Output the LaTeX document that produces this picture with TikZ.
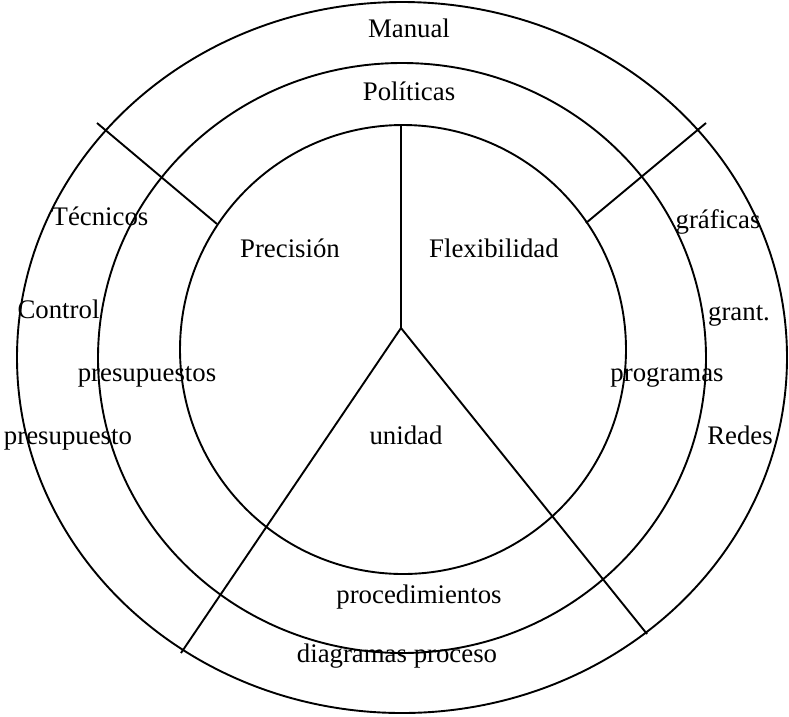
\documentclass[tikz,border=0pt]{standalone}
\usepackage{fontspec}
\setmainfont{Liberation Serif}
\begin{document}
\begin{tikzpicture}[x=1pt,y=-1pt,
  ring/.style={line width=1.9pt,black},
  spoke/.style={line width=1.9pt,black},
  lbl/.style={anchor=base,inner sep=0pt,font=\fontsize{26.8}{32}\selectfont}]
\useasboundingbox (0,0) rectangle (789,716);
% rings
\draw[ring] (402,357.5) ellipse [x radius=385,y radius=355.5];
\draw[ring] (402,358) ellipse [x radius=304,y radius=295];
\draw[ring] (403,349.5) ellipse [x radius=223,y radius=224.5];
% spokes
\coordinate (hub) at (401,328);
\coordinate (top) at (401,126);
\coordinate (bl) at (181,653);
\coordinate (br) at (647,634);
\coordinate (tlA) at (97,123);
\coordinate (tlB) at (217,224);
\coordinate (trA) at (706,123);
\coordinate (trB) at (586,223);
\draw[spoke] (top) -- (hub);
\draw[spoke] (hub) -- (bl);
\draw[spoke] (hub) -- (br);
\draw[spoke] (tlA) -- (tlB);
\draw[spoke] (trA) -- (trB);
% labels
\node[lbl] (manual) at (409,37) {Manual};
\node[lbl] (politicas) at (409,100) {Políticas};
\node[lbl] (tecnicos) at (100,225) {Técnicos};
\node[lbl] (control) at (58.5,318) {Control};
\node[lbl] (precision) at (290,257) {Precisión};
\node[lbl] (flex) at (494,257) {Flexibilidad};
\node[lbl] (graficas) at (718,228) {gráficas};
\node[lbl] (grant) at (739,320) {grant.};
\node[lbl] (presupuestos) at (147,381) {presupuestos};
\node[lbl] (presupuesto) at (68,444) {presupuesto};
\node[lbl] (unidad) at (406,444) {unidad};
\node[lbl] (programas) at (667,381) {programas};
\node[lbl] (redes) at (740,444) {Redes};
\node[lbl] (proced) at (419,603) {procedimientos};
\node[lbl] (diagramas) at (397,662) {diagramas proceso};
\end{tikzpicture}
\end{document}
